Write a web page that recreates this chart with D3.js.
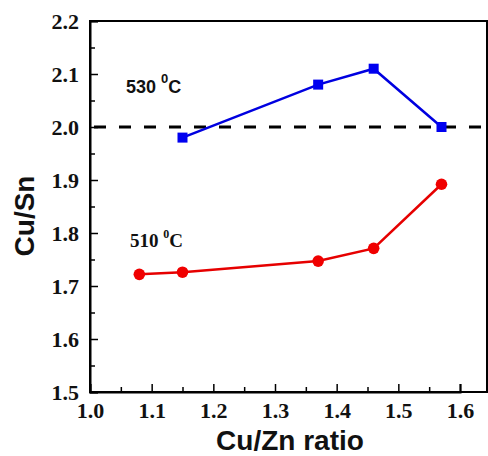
<!DOCTYPE html>
<html lang="en">
<head>
    <script src="https://d3js.org/d3.v7.min.js"></script>
    <style>
        body { margin: 0; background: #fff; }
    </style>
</head>
<body>
<script>
    var width = 488, height = 456;

    // data
    var cuZn530 = [1.15, 1.37, 1.46, 1.57];
    var cuSn530 = [1.98, 2.08, 2.11, 2.00];
    var cuZn510 = [1.08, 1.15, 1.37, 1.46, 1.57];
    var cuSn510 = [1.722, 1.726, 1.747, 1.771, 1.892];
    var xTicks = [1.0, 1.1, 1.2, 1.3, 1.4, 1.5, 1.6];
    var yTicks = [1.5, 1.6, 1.7, 1.8, 1.9, 2.0, 2.1, 2.2];
    var refLine = 2.0;

    var svg = d3.select('body').append('svg')
        .attr('width', width).attr('height', height);

    var x = d3.scaleLinear().domain([1.0, 1.6]).range([90, 460]);
    var y = d3.scaleLinear().domain([1.5, 2.2]).range([392, 21]);
    var xRight = 487;

    var serif = '"Liberation Serif", "Times New Roman", serif';
    var sans = '"Liberation Sans", Arial, sans-serif';

    // dashed reference line
    svg.append('line')
        .attr('x1', x(1.0) + 4).attr('x2', 481)
        .attr('y1', y(refLine)).attr('y2', y(refLine))
        .attr('stroke', '#000').attr('stroke-width', 3)
        .attr('stroke-dasharray', '12,13');

    // frame
    svg.append('rect')
        .attr('x', x(1.0)).attr('y', y(2.2))
        .attr('width', xRight - x(1.0)).attr('height', y(1.5) - y(2.2))
        .attr('fill', 'none').attr('stroke', '#000').attr('stroke-width', 2);

    // x axis (ticks inside)
    var xAxis = d3.axisBottom(x).tickValues(xTicks).tickSize(-8).tickFormat(d3.format('.1f')).tickPadding(14);
    var gx = svg.append('g').attr('transform', 'translate(0,' + y(1.5) + ')').call(xAxis);
    var xMinor = d3.axisBottom(x).tickValues(d3.range(1.05, 1.65, 0.1)).tickSize(-5).tickFormat('');
    svg.append('g').attr('transform', 'translate(0,' + y(1.5) + ')').call(xMinor)
        .call(function(g) { g.select('.domain').remove(); });

    // y axis (ticks inside)
    var yAxis = d3.axisLeft(y).tickValues(yTicks).tickSize(-8).tickFormat(d3.format('.1f')).tickPadding(11);
    var gy = svg.append('g').attr('transform', 'translate(' + x(1.0) + ',0)').call(yAxis);
    var yMinor = d3.axisLeft(y).tickValues(d3.range(1.55, 2.2, 0.1)).tickSize(-5).tickFormat('');
    svg.append('g').attr('transform', 'translate(' + x(1.0) + ',0)').call(yMinor)
        .call(function(g) { g.select('.domain').remove(); });

    svg.selectAll('.domain').attr('stroke-width', 2);
    svg.selectAll('.tick line').attr('stroke-width', 1.5);
    [gx, gy].forEach(function(g) {
        g.attr('font-family', null).attr('font-size', null);
        g.selectAll('.tick text')
            .style('font-family', serif).style('font-weight', 'bold')
            .style('font-size', '22px').attr('fill', '#111');
    });
    gx.selectAll('.tick text').attr('dy', '0.55em');

    // series lines
    var line = d3.line().x(function(d) { return x(d[0]); }).y(function(d) { return y(d[1]); });
    var blue = d3.zip(cuZn530, cuSn530);
    var red = d3.zip(cuZn510, cuSn510);

    svg.append('path').datum(blue).attr('d', line)
        .attr('fill', 'none').attr('stroke', '#0000e0').attr('stroke-width', 2.5);
    svg.append('path').datum(red).attr('d', line)
        .attr('fill', 'none').attr('stroke', '#e60000').attr('stroke-width', 2.5);

    svg.selectAll('rect.sq').data(blue).join('rect').attr('class', 'sq')
        .attr('x', function(d) { return x(d[0]) - 5; })
        .attr('y', function(d) { return y(d[1]) - 5; })
        .attr('width', 10).attr('height', 10)
        .attr('fill', '#0000f0');

    svg.selectAll('circle.dot').data(red).join('circle').attr('class', 'dot')
        .attr('cx', function(d) { return x(d[0]); })
        .attr('cy', function(d) { return y(d[1]); })
        .attr('r', 5.8)
        .attr('fill', '#f00000');

    // annotations
    var t530 = svg.append('text').attr('x', 126).attr('y', 93)
        .style('font-family', sans).style('font-weight', 'bold').style('font-size', '18px').attr('fill', '#111');
    t530.append('tspan').text('530 ');
    t530.append('tspan').style('font-size', '13px').attr('dy', -10).text('0');
    t530.append('tspan').attr('dy', 10).text('C');

    var t510 = svg.append('text').attr('x', 130).attr('y', 247)
        .style('font-family', serif).style('font-weight', 'bold').style('font-size', '19px').attr('fill', '#111');
    t510.append('tspan').text('510 ');
    t510.append('tspan').style('font-size', '12px').attr('dy', -9).text('0');
    t510.append('tspan').attr('dy', 9).text('C');

    // axis titles
    svg.append('text').attr('x', 290).attr('y', 450)
        .attr('text-anchor', 'middle')
        .style('font-family', sans).style('font-weight', 'bold').style('font-size', '28px').attr('fill', '#111')
        .text('Cu/Zn ratio');

    svg.append('text')
        .attr('transform', 'translate(34,216) rotate(-90)')
        .attr('text-anchor', 'middle')
        .style('font-family', sans).style('font-weight', 'bold').style('font-size', '28px').attr('fill', '#111')
        .text('Cu/Sn');
</script>
</body>
</html>
